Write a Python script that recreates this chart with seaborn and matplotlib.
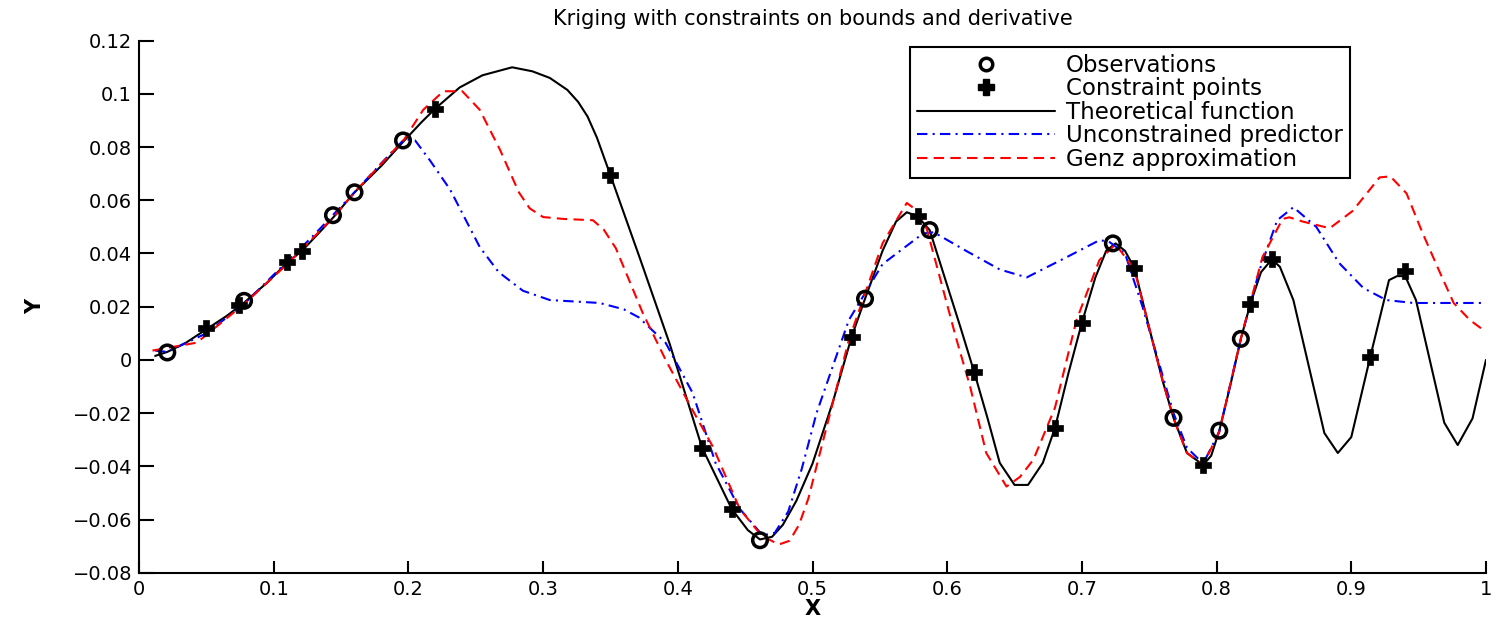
import matplotlib
matplotlib.use("Agg")
import matplotlib.pyplot as plt
import seaborn as sns
from matplotlib.lines import Line2D

# ---------------- data ----------------
theo_x = [0.012, 0.021, 0.035, 0.05, 0.065, 0.078, 0.095, 0.11, 0.121, 0.135, 0.145, 0.16,
          0.18, 0.197, 0.21, 0.22, 0.238, 0.255, 0.277, 0.292, 0.305, 0.318, 0.326, 0.333,
          0.34, 0.35, 0.357, 0.372, 0.394, 0.418, 0.44, 0.452, 0.461, 0.47, 0.478, 0.488,
          0.5, 0.515, 0.529, 0.539, 0.552, 0.562, 0.57, 0.578, 0.587, 0.6, 0.61, 0.62, 0.63,
          0.639, 0.65, 0.66, 0.671, 0.68, 0.69, 0.7, 0.71, 0.718, 0.725, 0.732, 0.739, 0.75,
          0.76, 0.768, 0.778, 0.79, 0.796, 0.802, 0.81, 0.818, 0.825, 0.833, 0.841, 0.847,
          0.857, 0.88, 0.89, 0.9, 0.914, 0.928, 0.934, 0.94, 0.948, 0.969, 0.979, 0.99, 1.0]
theo_y = [0.0015, 0.003, 0.0065, 0.0115, 0.0165, 0.0215, 0.029, 0.0365, 0.041, 0.0485, 0.054, 0.063,
          0.073, 0.0825, 0.0895, 0.0945, 0.1024, 0.107, 0.110, 0.1085, 0.106, 0.1015, 0.097, 0.0915,
          0.0835, 0.0694, 0.0594, 0.038, 0.006, -0.033, -0.056, -0.064, -0.0675, -0.0665, -0.062,
          -0.053, -0.039, -0.016, 0.0086, 0.023, 0.041, 0.052, 0.0555, 0.054, 0.0488, 0.028, 0.012,
          -0.0045, -0.022, -0.0387, -0.047, -0.047, -0.0387, -0.0256, -0.005, 0.014, 0.031, 0.041,
          0.0438, 0.041, 0.0345, 0.012, -0.008, -0.0218, -0.035, -0.0395, -0.036, -0.0266, -0.010,
          0.0079, 0.021, 0.033, 0.0378, 0.035, 0.0225, -0.0275, -0.035, -0.029, 0.001, 0.030,
          0.0315, 0.0315, 0.0225, -0.0236, -0.032, -0.022, 0.0]

unc_x = [0.012, 0.021, 0.05, 0.078, 0.11, 0.13, 0.145, 0.16, 0.18, 0.197, 0.205, 0.216, 0.231,
         0.253, 0.267, 0.285, 0.305, 0.342, 0.36, 0.371, 0.391, 0.411, 0.428, 0.446, 0.463,
         0.472, 0.482, 0.492, 0.503, 0.527, 0.552, 0.582, 0.59, 0.614, 0.639, 0.659, 0.689, 0.713,
         0.72, 0.732, 0.745, 0.76, 0.768, 0.778, 0.79, 0.802, 0.818, 0.832, 0.845, 0.857,
         0.874, 0.891, 0.909, 0.926, 0.946, 1.0]
unc_y = [0.0035, 0.003, 0.010, 0.021, 0.037, 0.047, 0.055, 0.063, 0.074, 0.083, 0.0825, 0.075, 0.064,
         0.0424, 0.033, 0.026, 0.0225, 0.0214, 0.019, 0.016, 0.0064, -0.0124, -0.0387, -0.056, -0.066,
         -0.065, -0.057, -0.041, -0.020, 0.015, 0.036, 0.0475, 0.048, 0.041, 0.034, 0.031, 0.0387, 0.045,
         0.0445, 0.040, 0.020, -0.006, -0.020, -0.033, -0.039, -0.027, 0.008, 0.034, 0.0525, 0.0574,
         0.050, 0.0364, 0.027, 0.0225, 0.0214, 0.0214]

genz_x = [0.010, 0.043, 0.078, 0.11, 0.145, 0.16, 0.197, 0.211, 0.226, 0.24, 0.253, 0.268,
          0.282, 0.29, 0.30, 0.315, 0.337, 0.345, 0.354, 0.374, 0.391, 0.41, 0.426, 0.446,
          0.462, 0.475, 0.483, 0.49, 0.497, 0.503, 0.527, 0.552, 0.57, 0.578, 0.585, 0.607, 0.617,
          0.629, 0.644, 0.654, 0.664, 0.68, 0.696, 0.713, 0.725, 0.739, 0.75, 0.76, 0.768, 0.778,
          0.79, 0.802, 0.818, 0.834, 0.849, 0.854, 0.864, 0.884, 0.901, 0.921, 0.929, 0.941,
          0.953, 0.966, 0.976, 0.988, 1.0]
genz_y = [0.0035, 0.0065, 0.021, 0.036, 0.054, 0.063, 0.083, 0.094, 0.101, 0.101, 0.094, 0.079,
          0.063, 0.057, 0.0537, 0.053, 0.0525, 0.049, 0.042, 0.0176, 0.0, -0.018, -0.0326, -0.056,
          -0.066, -0.0694, -0.068, -0.062, -0.052, -0.040, 0.0075, 0.0438, 0.059, 0.056, 0.049, 0.0075,
          -0.010, -0.035, -0.0476, -0.044, -0.0375, -0.018, 0.015, 0.0375, 0.0435, 0.034, 0.012,
          -0.008, -0.022, -0.035, -0.0395, -0.027, 0.008, 0.0386, 0.053, 0.0536, 0.052, 0.0495,
          0.056, 0.0686, 0.069, 0.0626, 0.0476, 0.0326, 0.0214, 0.015, 0.0105]

obs_x = [0.021, 0.078, 0.144, 0.160, 0.196, 0.461, 0.539, 0.587, 0.723, 0.768, 0.802, 0.818]
obs_y = [0.0028, 0.0222, 0.0544, 0.063, 0.0825, -0.0678, 0.023, 0.0488, 0.0438, -0.0218, -0.0266, 0.0079]

con_x = [0.050, 0.074, 0.110, 0.121, 0.220, 0.350, 0.418, 0.440, 0.529, 0.578, 0.620, 0.680,
         0.700, 0.739, 0.790, 0.825, 0.841, 0.914, 0.940]
con_y = [0.012, 0.0206, 0.0368, 0.041, 0.0945, 0.0694, -0.033, -0.056, 0.0086, 0.054, -0.0045, -0.0256,
         0.014, 0.0345, -0.0395, 0.021, 0.0378, 0.001, 0.0334]

xticks = [0, 0.1, 0.2, 0.3, 0.4, 0.5, 0.6, 0.7, 0.8, 0.9, 1.0]
xtick_labels = ["0", "0.1", "0.2", "0.3", "0.4", "0.5", "0.6", "0.7", "0.8", "0.9", "1"]
yticks = [-0.08, -0.06, -0.04, -0.02, 0, 0.02, 0.04, 0.06, 0.08, 0.1, 0.12]
ytick_labels = ["\u22120.08", "\u22120.06", "\u22120.04", "\u22120.02", "0", "0.02", "0.04",
                "0.06", "0.08", "0.1", "0.12"]

title = "Kriging with constraints on bounds and derivative"
labels = ["Observations", "Constraint points", "Theoretical function",
          "Unconstrained predictor", "Genz approximation"]

# ---------------- styling ----------------
sns.set_style("ticks")
plt.rcParams["font.family"] = ["DejaVu Sans"]
plt.rcParams["text.color"] = "black"
plt.rcParams["axes.labelcolor"] = "black"

fig = plt.figure(figsize=(15.04, 6.18), dpi=100)
ax = fig.add_axes([139 / 1504, 45.3 / 618, 1347 / 1504, 532 / 618])

blue_ls = (0, (5, 2.5, 1, 2.5))
red_ls = (0, (5, 3))

sns.lineplot(x=theo_x, y=theo_y, sort=False, estimator=None, color="black", lw=1.5, ax=ax, zorder=2)
sns.lineplot(x=unc_x, y=unc_y, sort=False, estimator=None, color="#0000ff", lw=1.5,
             linestyle=blue_ls, ax=ax, zorder=3)
sns.lineplot(x=genz_x, y=genz_y, sort=False, estimator=None, color="#ff0000", lw=1.5,
             linestyle=red_ls, ax=ax, zorder=3)
sns.scatterplot(x=obs_x, y=obs_y, marker="o", s=110, facecolor="none", edgecolor="black",
                linewidth=2.5, ax=ax, zorder=5)
sns.scatterplot(x=con_x, y=con_y, marker="P", s=130, color="black", edgecolor="black",
                linewidth=0.5, ax=ax, zorder=6)

ax.set_xlim(0, 1)
ax.set_ylim(-0.08, 0.12)
ax.set_xticks(xticks)
ax.set_xticklabels(xtick_labels)
ax.set_yticks(yticks)
ax.set_yticklabels(ytick_labels)

sns.despine(ax=ax)
for sp in ("left", "bottom"):
    ax.spines[sp].set_linewidth(1.5)
    ax.spines[sp].set_color("black")

ax.tick_params(axis="y", direction="in", length=11, width=1.5, pad=5, labelsize=14,
               colors="black")
ax.tick_params(axis="x", direction="in", length=8.5, width=1.5, pad=5, labelsize=14,
               colors="black")

ax.set_title(title, fontsize=15, pad=11, color="black")
ax.set_xlabel("X", fontsize=15, fontweight="bold", labelpad=0)
ax.set_ylabel("Y", fontsize=15, fontweight="bold", labelpad=20)

handles = [
    Line2D([], [], ls="none", marker="o", ms=9, mfc="none", mec="black", mew=2.5),
    Line2D([], [], ls="none", marker="P", ms=11, color="black"),
    Line2D([], [], color="black", lw=1.5),
    Line2D([], [], color="#0000ff", lw=1.5, ls=blue_ls),
    Line2D([], [], color="#ff0000", lw=1.5, ls=red_ls),
]
leg = ax.legend(handles, labels, loc="upper right", bbox_to_anchor=(0.899, 0.988),
                fontsize=16.5, frameon=True, fancybox=False, edgecolor="black",
                handlelength=6.0, handletextpad=0.5, labelspacing=0.02,
                borderpad=0.3, borderaxespad=0, labelcolor="black")
leg.get_frame().set_linewidth(1.5)
leg.get_frame().set_alpha(1)

fig.savefig("out.png", dpi=100)
